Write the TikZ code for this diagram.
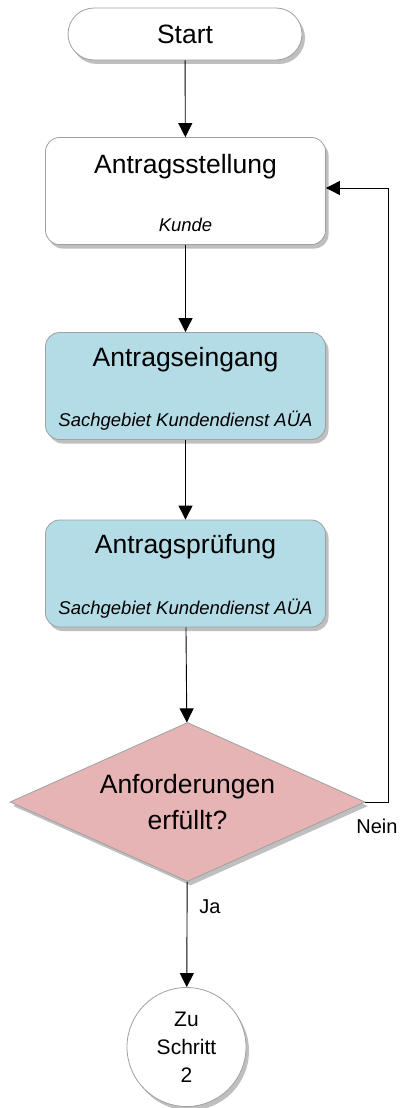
\documentclass[tikz,border=0pt]{standalone}
\usepackage{fontspec}
\setmainfont{Liberation Sans}
\usepackage{xcolor}
\usepackage{tikz}
\usetikzlibrary{shapes.geometric, arrows.meta, positioning, calc, shadows}

\definecolor{stepblue}{HTML}{B4DCE6}
\definecolor{decpink}{HTML}{E6B4B5}
\definecolor{edgegray}{HTML}{A0A0A0}

\tikzset{
    shade/.style={drop shadow={shadow xshift=3pt, shadow yshift=-4pt, opacity=0.25, fill=black}},
    stepbox/.style={draw=edgegray, line width=0.8pt, rounded corners=14pt, minimum width=280pt, minimum height=107pt, shade},
    titletext/.style={font=\fontsize{26.5}{32}\selectfont, anchor=base},
    subtext/.style={font=\fontsize{18.5}{22}\selectfont\itshape, anchor=base},
    flow/.style={line width=0.9pt, -{Triangle[width=14pt, length=14pt]}},
    answer/.style={font=\fontsize{20}{24}\selectfont}
}

\begin{document}
\begin{tikzpicture}[x=1pt, y=-1pt]
        \useasboundingbox (0,0) rectangle (406,1108);

        % start
        \node (start) at (185,34) [draw=edgegray, line width=0.8pt, rounded corners=26pt, fill=white, minimum width=234pt, minimum height=52pt, shade, font=\fontsize{26.5}{32}\selectfont] {Start};

        % steps
        \node (stell) at (185.5,191) [stepbox, fill=white] {};
        \node (eing) at (185.5,386) [stepbox, fill=stepblue] {};
        \node (pruef) at (185.5,573.5) [stepbox, fill=stepblue] {};

        \node (stellT) at ($(stell.north)+(0,36)$) [titletext] {Antragsstellung};
        \node (stellS) at ($(stell.south)+(0,-13)$) [subtext] {Kunde};
        \node (eingT) at ($(eing.north)+(0,34)$) [titletext] {Antragseingang};
        \node (eingS) at ($(eing.south)+(0,-13)$) [subtext] {Sachgebiet Kundendienst AÜA};
        \node (pruefT) at ($(pruef.north)+(0,34)$) [titletext] {Antragsprüfung};
        \node (pruefS) at ($(pruef.south)+(0,-13)$) [subtext] {Sachgebiet Kundendienst AÜA};

        % decision
        \node (dec) at (187.5,802) [diamond, draw=edgegray, line width=0.8pt, fill=decpink, aspect=2.23, minimum width=355pt, minimum height=159pt, inner sep=0pt, shade, align=center, font=\fontsize{26.5}{36}\selectfont] {Anforderungen\\erfüllt?};

        % end
        \node (next) at (186.5,1047) [circle, draw=edgegray, line width=0.8pt, fill=white, minimum size=119pt, inner sep=0pt, shade, align=center, font=\fontsize{21}{28}\selectfont] {Zu\\Schritt\\2};

        \draw[flow] (start) -- (stell);
        \draw[flow] (stell) -- (eing);
        \draw[flow] (eing) -- (pruef);
        \draw[flow] (pruef) -- (dec);
        \draw[flow] (dec) -- (next);
        \draw[flow] (dec.east) -- ++(23,0) |- ($(stell.east)+(0,-3)$);

        \node (nein) at (377,826) [answer] {Nein};
        \node (ja) at (210,907) [answer] {Ja};
    \end{tikzpicture}
\end{document}
